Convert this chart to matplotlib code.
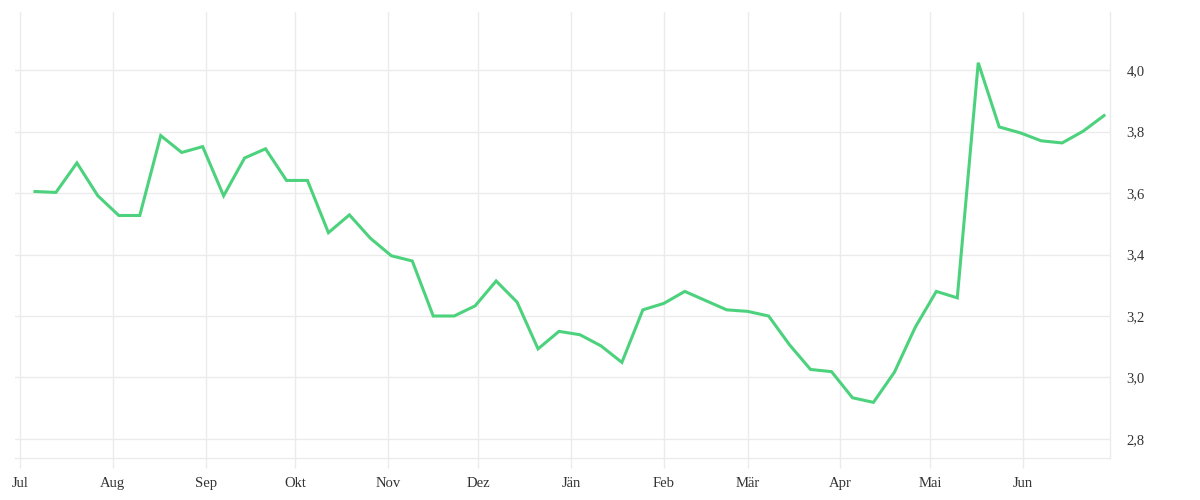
import numpy as np
import pandas as pd
import matplotlib
matplotlib.use('Agg')
import matplotlib.pyplot as plt
import matplotlib.dates as mdates
from matplotlib.ticker import FuncFormatter

# weekly values, Jul 2018 - Jun 2019
dates = pd.date_range('2018-07-06', periods=52, freq='7D')
values = [3.605, 3.602, 3.698, 3.591, 3.527, 3.527, 3.787, 3.732, 3.751, 3.591,
          3.714, 3.744, 3.641, 3.641, 3.471, 3.529, 3.453, 3.396, 3.379, 3.200,
          3.200, 3.233, 3.314, 3.245, 3.093, 3.150, 3.139, 3.103, 3.049, 3.220,
          3.241, 3.280, 3.250, 3.220, 3.215, 3.200, 3.106, 3.026, 3.019, 2.934,
          2.919, 3.017, 3.164, 3.280, 3.259, 4.024, 3.815, 3.796, 3.770, 3.763,
          3.801, 3.852]

month_labels = ['Jul', 'Aug', 'Sep', 'Okt', 'Nov', 'Dez', 'Jän',
                'Feb', 'Mär', 'Apr', 'Mai', 'Jun']
month_ticks = pd.date_range('2018-07-01', periods=12, freq='MS')
y_ticks = [2.8, 3.0, 3.2, 3.4, 3.6, 3.8, 4.0]

grid_col = '#ebebeb'
text_col = '#333333'

plt.rcParams['font.family'] = ['Liberation Serif', 'DejaVu Serif']

fig = plt.figure(figsize=(12, 5), dpi=100)
ax = fig.add_axes([0.0125, 0.084, 0.9125, 0.892])

ax.plot(dates, values, color='#4cd27c', lw=2.2, solid_joinstyle='miter')

ax.set_xlim(pd.Timestamp('2018-06-29 08:00'), pd.Timestamp('2019-06-30'))
ax.set_ylim(2.738, 4.189)

ax.set_xticks(month_ticks)
ax.set_xticklabels(month_labels)
ax.set_yticks(y_ticks)
ax.yaxis.set_major_formatter(FuncFormatter(lambda v, p: f'{v:.1f}'.replace('.', ',')))
ax.yaxis.tick_right()

ax.grid(True, color=grid_col, lw=1)
ax.set_axisbelow(True)
for s in ['left', 'top']:
    ax.spines[s].set_visible(False)
for s in ['bottom', 'right']:
    ax.spines[s].set_color(grid_col)
    ax.spines[s].set_linewidth(1)

ax.tick_params(axis='x', length=7.5, color=grid_col, width=1, pad=6,
               labelsize=10.5, labelcolor=text_col)
ax.tick_params(axis='y', length=0, pad=12, labelsize=10.5, labelcolor=text_col)

fig.savefig('out.png', dpi=100)
